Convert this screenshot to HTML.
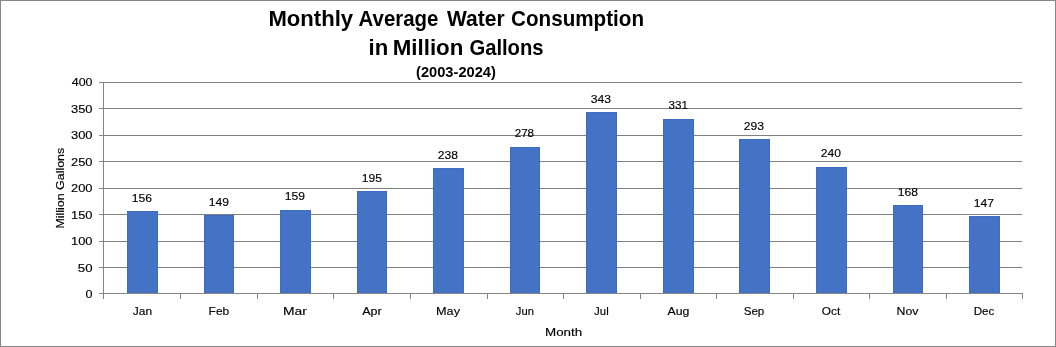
<!DOCTYPE html>
<html><head><meta charset="utf-8"><style>
html,body{margin:0;padding:0;background:#fff;}
body{width:1056px;height:347px;overflow:hidden;position:relative;}
svg{position:absolute;left:0;top:0;will-change:transform;}
text{font-family:"Liberation Sans",sans-serif;fill:#000;}
.b{font-weight:bold;}
.n{stroke:#000;stroke-width:0.15px;}
</style></head><body>
<svg width="1056" height="347" viewBox="0 0 1056 347">
<rect x="0.5" y="0.5" width="1055" height="346" fill="#fff" stroke="#868686" stroke-width="1"/>
<rect x="103" y="267" width="919" height="1" fill="#808080"/>
<rect x="103" y="241" width="919" height="1" fill="#808080"/>
<rect x="103" y="214" width="919" height="1" fill="#808080"/>
<rect x="103" y="188" width="919" height="1" fill="#808080"/>
<rect x="103" y="161" width="919" height="1" fill="#808080"/>
<rect x="103" y="135" width="919" height="1" fill="#808080"/>
<rect x="103" y="108" width="919" height="1" fill="#808080"/>
<rect x="103" y="82" width="919" height="1" fill="#808080"/>
<rect x="127" y="211" width="31" height="82" fill="#3E6CC2"/>
<rect x="128" y="212" width="29" height="81" fill="#4472C4"/>
<rect x="204" y="215" width="30" height="78" fill="#3E6CC2"/>
<rect x="205" y="216" width="28" height="77" fill="#4472C4"/>
<rect x="280" y="210" width="31" height="83" fill="#3E6CC2"/>
<rect x="281" y="211" width="29" height="82" fill="#4472C4"/>
<rect x="357" y="191" width="30" height="102" fill="#3E6CC2"/>
<rect x="358" y="192" width="28" height="101" fill="#4472C4"/>
<rect x="433" y="168" width="31" height="125" fill="#3E6CC2"/>
<rect x="434" y="169" width="29" height="124" fill="#4472C4"/>
<rect x="510" y="147" width="30" height="146" fill="#3E6CC2"/>
<rect x="511" y="148" width="28" height="145" fill="#4472C4"/>
<rect x="586" y="112" width="31" height="181" fill="#3E6CC2"/>
<rect x="587" y="113" width="29" height="180" fill="#4472C4"/>
<rect x="663" y="119" width="31" height="174" fill="#3E6CC2"/>
<rect x="664" y="120" width="29" height="173" fill="#4472C4"/>
<rect x="739" y="139" width="31" height="154" fill="#3E6CC2"/>
<rect x="740" y="140" width="29" height="153" fill="#4472C4"/>
<rect x="816" y="167" width="31" height="126" fill="#3E6CC2"/>
<rect x="817" y="168" width="29" height="125" fill="#4472C4"/>
<rect x="893" y="205" width="30" height="88" fill="#3E6CC2"/>
<rect x="894" y="206" width="28" height="87" fill="#4472C4"/>
<rect x="969" y="216" width="31" height="77" fill="#3E6CC2"/>
<rect x="970" y="217" width="29" height="76" fill="#4472C4"/>
<rect x="103" y="82" width="1" height="217" fill="#858585"/>
<rect x="99" y="293" width="924" height="1" fill="#858585"/>
<rect x="99" y="267" width="4" height="1" fill="#858585"/>
<rect x="99" y="241" width="4" height="1" fill="#858585"/>
<rect x="99" y="214" width="4" height="1" fill="#858585"/>
<rect x="99" y="188" width="4" height="1" fill="#858585"/>
<rect x="99" y="161" width="4" height="1" fill="#858585"/>
<rect x="99" y="135" width="4" height="1" fill="#858585"/>
<rect x="99" y="108" width="4" height="1" fill="#858585"/>
<rect x="99" y="82" width="4" height="1" fill="#858585"/>
<rect x="180" y="293" width="1" height="6" fill="#858585"/>
<rect x="257" y="293" width="1" height="6" fill="#858585"/>
<rect x="333" y="293" width="1" height="6" fill="#858585"/>
<rect x="410" y="293" width="1" height="6" fill="#858585"/>
<rect x="487" y="293" width="1" height="6" fill="#858585"/>
<rect x="563" y="293" width="1" height="6" fill="#858585"/>
<rect x="640" y="293" width="1" height="6" fill="#858585"/>
<rect x="716" y="293" width="1" height="6" fill="#858585"/>
<rect x="793" y="293" width="1" height="6" fill="#858585"/>
<rect x="869" y="293" width="1" height="6" fill="#858585"/>
<rect x="946" y="293" width="1" height="6" fill="#858585"/>
<rect x="1022" y="293" width="1" height="6" fill="#858585"/>
<text x="268.40" y="26" font-size="21.3" class="b" textLength="84.70" lengthAdjust="spacingAndGlyphs">Monthly</text>
<text x="358.60" y="26" font-size="21.3" class="b" textLength="79.80" lengthAdjust="spacingAndGlyphs">Average</text>
<text x="447.00" y="26" font-size="21.3" class="b" textLength="57.60" lengthAdjust="spacingAndGlyphs">Water</text>
<text x="511.10" y="26" font-size="21.3" class="b" textLength="132.90" lengthAdjust="spacingAndGlyphs">Consumption</text>
<text x="368.60" y="55" font-size="21.3" class="b" textLength="19.70" lengthAdjust="spacingAndGlyphs">in</text>
<text x="392.70" y="55" font-size="21.3" class="b" textLength="70.70" lengthAdjust="spacingAndGlyphs">Million</text>
<text x="469.40" y="55" font-size="21.3" class="b" textLength="74.20" lengthAdjust="spacingAndGlyphs">Gallons</text>
<text x="416.00" y="77" font-size="14.6" class="b" textLength="79.90" lengthAdjust="spacingAndGlyphs">(2003-2024)</text>
<text x="85.50" y="298" font-size="11.5" class="n" textLength="7.00" lengthAdjust="spacingAndGlyphs">0</text>
<text x="77.80" y="272" font-size="11.5" class="n" textLength="14.70" lengthAdjust="spacingAndGlyphs">50</text>
<text x="71.00" y="245" font-size="11.5" class="n" textLength="21.50" lengthAdjust="spacingAndGlyphs">100</text>
<text x="71.00" y="219" font-size="11.5" class="n" textLength="21.50" lengthAdjust="spacingAndGlyphs">150</text>
<text x="71.00" y="192" font-size="11.5" class="n" textLength="21.50" lengthAdjust="spacingAndGlyphs">200</text>
<text x="71.00" y="166" font-size="11.5" class="n" textLength="21.50" lengthAdjust="spacingAndGlyphs">250</text>
<text x="71.00" y="139" font-size="11.5" class="n" textLength="21.50" lengthAdjust="spacingAndGlyphs">300</text>
<text x="71.00" y="113" font-size="11.5" class="n" textLength="21.50" lengthAdjust="spacingAndGlyphs">350</text>
<text x="71.80" y="86" font-size="11.5" class="n" textLength="20.70" lengthAdjust="spacingAndGlyphs">400</text>
<text x="131.80" y="202" font-size="11.5" class="n" textLength="20.20" lengthAdjust="spacingAndGlyphs">156</text>
<text x="208.70" y="206" font-size="11.5" class="n" textLength="20.20" lengthAdjust="spacingAndGlyphs">149</text>
<text x="284.80" y="200" font-size="11.5" class="n" textLength="20.20" lengthAdjust="spacingAndGlyphs">159</text>
<text x="361.70" y="182" font-size="11.5" class="n" textLength="20.20" lengthAdjust="spacingAndGlyphs">195</text>
<text x="437.80" y="159" font-size="11.5" class="n" textLength="20.20" lengthAdjust="spacingAndGlyphs">238</text>
<text x="514.70" y="137" font-size="11.5" class="n" textLength="19.40" lengthAdjust="spacingAndGlyphs">278</text>
<text x="590.80" y="103" font-size="11.5" class="n" textLength="20.20" lengthAdjust="spacingAndGlyphs">343</text>
<text x="668.60" y="109" font-size="11.5" class="n" textLength="19.40" lengthAdjust="spacingAndGlyphs">331</text>
<text x="743.80" y="130" font-size="11.5" class="n" textLength="20.20" lengthAdjust="spacingAndGlyphs">293</text>
<text x="820.80" y="157" font-size="11.5" class="n" textLength="20.20" lengthAdjust="spacingAndGlyphs">240</text>
<text x="897.70" y="196" font-size="11.5" class="n" textLength="20.20" lengthAdjust="spacingAndGlyphs">168</text>
<text x="973.80" y="207" font-size="11.5" class="n" textLength="20.20" lengthAdjust="spacingAndGlyphs">147</text>
<text x="132.75" y="315" font-size="11.6" class="n" textLength="19.30" lengthAdjust="spacingAndGlyphs">Jan</text>
<text x="208.60" y="315" font-size="11.6" class="n" textLength="20.60" lengthAdjust="spacingAndGlyphs">Feb</text>
<text x="283.05" y="315" font-size="11.6" class="n" textLength="23.90" lengthAdjust="spacingAndGlyphs">Mar</text>
<text x="362.20" y="315" font-size="11.6" class="n" textLength="19.40" lengthAdjust="spacingAndGlyphs">Apr</text>
<text x="436.00" y="315" font-size="11.6" class="n" textLength="24.00" lengthAdjust="spacingAndGlyphs">May</text>
<text x="515.85" y="315" font-size="11.6" class="n" textLength="18.10" lengthAdjust="spacingAndGlyphs">Jun</text>
<text x="594.10" y="315" font-size="11.6" class="n" textLength="14.60" lengthAdjust="spacingAndGlyphs">Jul</text>
<text x="667.45" y="315" font-size="11.6" class="n" textLength="21.90" lengthAdjust="spacingAndGlyphs">Aug</text>
<text x="743.65" y="315" font-size="11.6" class="n" textLength="20.70" lengthAdjust="spacingAndGlyphs">Sep</text>
<text x="821.80" y="315" font-size="11.6" class="n" textLength="18.40" lengthAdjust="spacingAndGlyphs">Oct</text>
<text x="896.55" y="315" font-size="11.6" class="n" textLength="21.90" lengthAdjust="spacingAndGlyphs">Nov</text>
<text x="973.65" y="315" font-size="11.6" class="n" textLength="20.70" lengthAdjust="spacingAndGlyphs">Dec</text>
<text x="545.00" y="336" font-size="11.8" class="n" textLength="37.20" lengthAdjust="spacingAndGlyphs">Month</text>
<text transform="translate(64,0) rotate(-90)" x="-228.50" y="0" font-size="11.6" class="n" textLength="80.70" lengthAdjust="spacingAndGlyphs">Million Gallons</text>
</svg>
</body></html>
